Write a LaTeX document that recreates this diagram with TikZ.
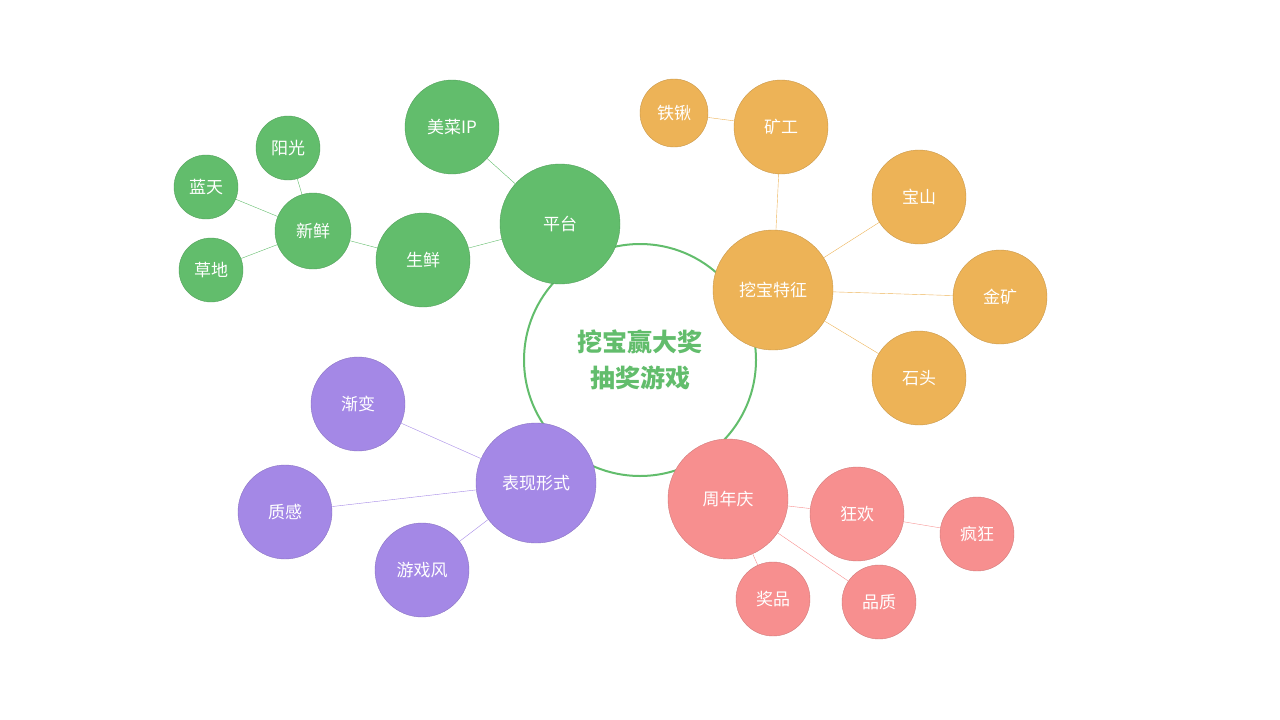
\documentclass[tikz,border=0pt]{standalone}
\usepackage{fontspec}
\setmainfont{Noto Sans CJK SC}
\usetikzlibrary{backgrounds}
\definecolor{cg}{HTML}{62BD6C}
\definecolor{co}{HTML}{EDB357}
\definecolor{cp}{HTML}{F78F8F}
\definecolor{cv}{HTML}{A488E6}
\tikzset{
 bub/.style={circle,inner sep=0pt,text=white,font=\fontsize{17}{20}\selectfont,minimum size=#1},
 g/.style={fill=cg,draw=cg!85!black,line width=0.4pt},
 o/.style={fill=co,draw=co!85!black,line width=0.4pt},
 p/.style={fill=cp,draw=cp!85!black,line width=0.4pt},
 v/.style={fill=cv,draw=cv!85!black,line width=0.4pt},
}
\begin{document}
\begin{tikzpicture}[x=1pt,y=-1pt]
\useasboundingbox (0,0) rectangle (1280,720);
\node[circle,draw=cg,line width=2pt,fill=white,minimum size=232pt,inner sep=0pt,text=cg,font=\bfseries\fontsize{25}{36}\selectfont,align=center] (c) at (640,360) {挖宝赢大奖\\抽奖游戏};
\node[bub=120pt,g] (pt) at (560,224) {平台};
\node[bub=94pt,g] (mc) at (452,127) {美菜IP};
\node[bub=94pt,g] (sx) at (423,260) {生鲜};
\node[bub=76pt,g] (xx) at (313,231) {新鲜};
\node[bub=64pt,g] (yg) at (288,148) {阳光};
\node[bub=64pt,g] (lt) at (206,187) {蓝天};
\node[bub=64pt,g] (cd) at (211,270) {草地};
\node[bub=120pt,o] (wb) at (773,290) {挖宝特征};
\node[bub=94pt,o] (kg) at (781,127) {矿工};
\node[bub=68pt,o] (tq) at (674,113) {铁锹};
\node[bub=94pt,o] (bs) at (919,197) {宝山};
\node[bub=94pt,o] (jk) at (1000,297) {金矿};
\node[bub=94pt,o] (st) at (919,378) {石头};
\node[bub=120pt,p] (zn) at (728,499) {周年庆};
\node[bub=94pt,p] (kh) at (857,514) {狂欢};
\node[bub=74pt,p] (fk) at (977,534) {疯狂};
\node[bub=74pt,p] (jp) at (773,599) {奖品};
\node[bub=74pt,p] (pz) at (879,602) {品质};
\node[bub=120pt,v] (bx) at (536,483) {表现形式};
\node[bub=94pt,v] (jb) at (358,404) {渐变};
\node[bub=94pt,v] (zg) at (285,512) {质感};
\node[bub=94pt,v] (yx) at (422,570) {游戏风};
\begin{scope}[on background layer,line width=1pt]
\draw[cg] (pt)--(mc) (pt)--(sx) (sx)--(xx) (xx)--(yg) (xx)--(lt) (xx)--(cd);
\draw[co] (wb)--(kg) (kg)--(tq) (wb)--(bs) (wb)--(jk) (wb)--(st);
\draw[cp] (zn)--(kh) (zn)--(jp) (zn)--(pz) (kh)--(fk);
\draw[cv] (bx)--(jb) (bx)--(zg) (bx)--(yx);
\end{scope}
\end{tikzpicture}
\end{document}
